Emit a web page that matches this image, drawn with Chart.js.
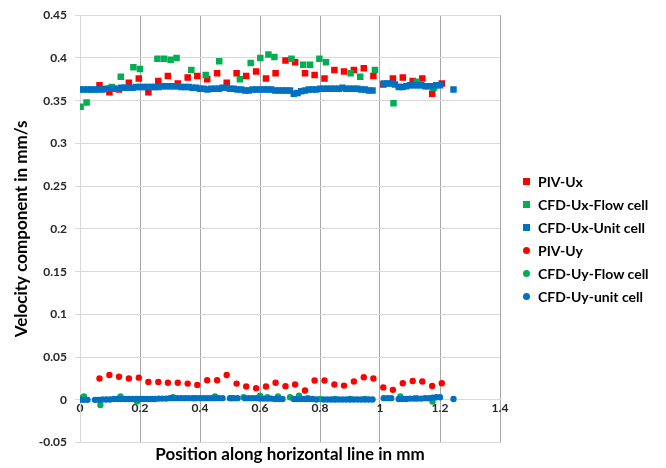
<!DOCTYPE html>
<html>
<head>
<meta charset="utf-8">
<script src="https://cdn.jsdelivr.net/npm/chart.js@4/dist/chart.umd.min.js"></script>
<style>
  html,body{margin:0;padding:0;background:#fff}
  #wrap{position:relative;width:666px;height:468px}
  #legend{position:absolute;left:522px;top:170px;font:bold 14px Lato,"Open Sans",sans-serif;color:#000}
  #legend .row{height:23px;display:flex;align-items:center;white-space:nowrap}
  #legend .mk{display:inline-block;margin:0 8px 0 1px}
</style>
</head>
<body>
<div id="wrap">
  <canvas id="c" width="666" height="468"></canvas>
  <div id="legend"></div>
</div>
<script>
/* --- DATA --- */
// PIV measurements (shared positions for Ux and Uy)
const pivX  = [0.065,0.098,0.130,0.163,0.196,0.228,0.261,0.293,0.326,0.359,0.391,0.424,0.457,0.489,0.522,0.554,0.587,0.620,
               0.652,0.685,0.717,0.750,0.782,0.815,0.848,0.880,0.913,0.946,0.978,1.011,1.043,1.076,1.109,1.141,1.174,1.206];
const pivUx = [0.368,0.360,0.363,0.371,0.376,0.360,0.373,0.379,0.370,0.377,0.379,0.375,0.382,0.371,0.382,0.379,0.384,0.376,
               0.382,0.397,0.395,0.382,0.380,0.376,0.386,0.384,0.386,0.388,0.379,0.369,0.376,0.377,0.373,0.376,0.358,0.370];
const pivUy = [0.025,0.029,0.027,0.025,0.026,0.021,0.021,0.020,0.020,0.019,0.0175,0.023,0.023,0.029,0.019,0.0156,0.0136,0.0156,
               0.020,0.016,0.018,0.011,0.0226,0.0226,0.018,0.0167,0.0214,0.0265,0.025,0.0146,0.0117,0.0195,0.022,0.0214,0.0163,0.0195];

// CFD flow cell, Ux
const flowUxX = [0.002,0.022,0.106,0.136,0.178,0.200,0.258,0.280,0.302,0.322,0.371,0.419,0.464,0.533,0.569,
                 0.601,0.628,0.648,0.705,0.744,0.767,0.798,0.820,0.902,0.934,0.983,1.045,1.123,1.179];
const flowUx  = [0.343,0.348,0.366,0.378,0.389,0.387,0.399,0.399,0.398,0.400,0.386,0.380,0.396,0.375,0.394,
                 0.400,0.404,0.401,0.399,0.392,0.392,0.399,0.395,0.382,0.378,0.386,0.347,0.372,0.365];

// CFD flow cell, Uy
const flowUyX = [0.005,0.013,0.068,0.135,0.190,0.245,0.310,0.380,0.450,0.505,0.545,0.600,0.625,0.660,
                 0.700,0.730,0.760,0.800,0.850,0.900,0.950,1.068,1.120,1.175];
const flowUy  = [0.002,0.004,-0.006,0.004,-0.002,0.001,0.003,0.002,0.004,0.002,0.003,0.005,0.003,0.004,
                 0.003,0.005,0.002,0.001,0.001,0.001,0.001,0.004,0.002,-0.002];

// CFD unit cell, Ux
const unitUxX = [0,0.0125,0.025,0.0375,0.05,0.0625,0.075,0.0875,0.1,0.1125,0.125,0.1375,0.15,0.1625,0.175,0.1875,
                 0.2,0.2125,0.225,0.2375,0.25,0.2625,0.275,0.2875,0.3,0.3125,0.325,0.3375,0.35,0.3625,0.375,0.3875,
                 0.4,0.4125,0.425,0.4375,0.45,0.4625,0.475,0.4875,0.5,0.5125,0.525,0.5375,0.55,0.5625,0.575,0.5875,
                 0.6,0.6125,0.625,0.6375,0.65,0.6625,0.675,0.6875,0.7,0.7125,0.725,0.7375,0.75,0.7625,0.775,0.7875,
                 0.8,0.8125,0.825,0.8375,0.85,0.8625,0.875,0.8875,0.9,0.9125,0.925,0.9375,0.95,0.9625,0.975,
                 1.0125,1.025,1.0375,1.05,1.0625,1.075,1.0875,1.1,1.1125,1.125,1.1375,1.15,1.1625,1.175,1.1875,1.2,1.245];
const unitUx  = [0.363,0.363,0.363,0.363,0.363,0.363,0.363,0.364,0.364,0.364,0.364,0.365,0.365,0.365,0.365,0.366,
                 0.366,0.366,0.366,0.366,0.366,0.366,0.367,0.367,0.367,0.367,0.367,0.366,0.366,0.366,0.365,0.365,
                 0.364,0.364,0.363,0.364,0.364,0.364,0.365,0.365,0.364,0.364,0.363,0.363,0.362,0.362,0.363,0.363,
                 0.363,0.363,0.363,0.363,0.362,0.362,0.362,0.362,0.362,0.358,0.359,0.361,0.362,0.363,0.363,0.363,
                 0.364,0.364,0.364,0.364,0.364,0.364,0.365,0.364,0.364,0.364,0.364,0.363,0.363,0.362,0.362,
                 0.370,0.370,0.370,0.369,0.366,0.366,0.367,0.368,0.368,0.368,0.368,0.367,0.367,0.367,0.368,0.368,0.363];

// CFD unit cell, Uy
const unitUyX = [0,0.0125,0.025,0.05,0.0625,0.075,0.0875,0.1,0.1125,0.125,0.1375,0.15,0.1625,0.175,0.1875,
                 0.2,0.2125,0.225,0.2375,0.25,0.2625,0.275,0.2875,0.3,0.3125,0.325,0.3375,0.35,0.3625,0.375,0.3875,
                 0.4,0.4125,0.425,0.4375,0.45,0.4625,0.475,0.5,0.5125,0.525,0.55,0.5625,0.575,0.5875,
                 0.6,0.6125,0.625,0.6375,0.65,0.6625,0.675,0.7125,0.725,0.7375,0.75,0.7625,0.775,0.7875,
                 0.8125,0.825,0.8375,0.85,0.8625,0.875,0.8875,0.9,0.9125,0.925,0.9375,0.95,0.9625,0.975,
                 1.0125,1.025,1.0375,1.0625,1.075,1.0875,1.1,1.1125,1.125,1.1375,1.15,1.1625,1.175,1.1875,1.2,1.245];
const unitUy  = [0,0,0,0,0,0.0005,0.0005,0.0005,0.001,0.001,0.001,0.001,0.001,0.001,0.001,
                 0.001,0.001,0.001,0.001,0.001,0.0015,0.0015,0.0015,0.002,0.002,0.002,0.002,0.002,0.002,0.002,0.002,
                 0.002,0.002,0.002,0.002,0.002,0.002,0.002,0.002,0.002,0.002,0.002,0.002,0.002,0.002,
                 0.0015,0.0015,0.0015,0.0015,0.001,0.001,0.001,0.001,0.001,0.001,0.001,0.001,0.001,0.0005,
                 0.0005,0.0005,0.0005,0.0005,0.0005,0.0005,0.0005,0.0005,0.0005,0.0005,0.0005,0.0005,0.0005,0.0005,
                 0.002,0.002,0.002,0.001,0.001,0.001,0.0015,0.0015,0.0015,0.0015,0.002,0.002,0.0025,0.003,0.003,0.001];

const seriesNames = ['PIV-Ux','CFD-Ux-Flow cell','CFD-Ux-Unit cell','PIV-Uy','CFD-Uy-Flow cell','CFD-Uy-unit cell'];

/* --- HELPERS --- */
const RED='#ff0000', GREEN='#00b050', BLUE='#0070c0';
const pts=(xs,ys)=>xs.map((x,i)=>({x:x,y:ys[i]}));
const fmt=v=>String(Math.round(v*100)/100);
const bold=s=>({family:'Lato, "Open Sans", sans-serif',size:s,weight:'bold'});

function ds(i, xs, ys, col, style){
  const sq = style==='rect';
  return {
    label:seriesNames[i], data:pts(xs,ys),
    pointStyle:style, pointRadius:sq?4.6:3.2, pointHoverRadius:sq?4.6:3.2,
    backgroundColor:col, borderColor:col, borderWidth:0,
    order:6-i   // later series paint over earlier ones
  };
}

const datasets = [
  ds(0,pivX,pivUx,RED,'rect'),
  ds(1,flowUxX,flowUx,GREEN,'rect'),
  ds(2,unitUxX,unitUx,BLUE,'rect'),
  ds(3,pivX,pivUy,RED,'circle'),
  ds(4,flowUyX,flowUy,GREEN,'circle'),
  ds(5,unitUyX,unitUy,BLUE,'circle')
];

/* --- CHART --- */
new Chart(document.getElementById('c'), {
  type:'scatter',
  data:{datasets:datasets},
  options:{
    responsive:false, animation:false,
    layout:{padding:{top:8,right:166}},
    scales:{
      x:{type:'linear', min:0, max:1.4, position:{y:0},
         ticks:{stepSize:0.2, padding:1, font:bold(12), color:'#262626', callback:fmt, maxRotation:0},
         grid:{color:c=>c.tick && c.tick.value===0 ? '#d9d9d9' : '#a6a6a6', drawTicks:false},
         border:{color:'#d9d9d9'},
         afterFit:s=>{s.height=0;}},
      y:{min:-0.05, max:0.45,
         ticks:{stepSize:0.05, padding:8, font:bold(12), color:'#262626', callback:fmt},
         grid:{color:'#d9d9d9', tickLength:5},
         border:{color:'#d9d9d9'},
         title:{display:true, text:'Velocity component in mm/s', font:bold(17), color:'#000', padding:{top:11,bottom:0}},
         afterFit:s=>{s.width=80;}}
    },
    plugins:{
      legend:{display:false},
      title:{display:true, position:'bottom', fullSize:false, text:'Position along horizontal line in mm',
        font:bold(17), color:'#000', padding:{top:2,bottom:3}},
      tooltip:{enabled:false}
    }
  }
});

/* --- LEGEND (html, right of the plot) --- */
document.getElementById('legend').innerHTML = datasets.map(d=>{
  const sq = d.pointStyle==='rect';
  const mk = sq
    ? `width:7px;height:7px;background:${d.backgroundColor}`
    : `width:7px;height:7px;border-radius:50%;background:${d.backgroundColor}`;
  return `<div class="row"><span class="mk" style="${mk}"></span>${d.label}</div>`;
}).join('');
</script>
</body>
</html>
